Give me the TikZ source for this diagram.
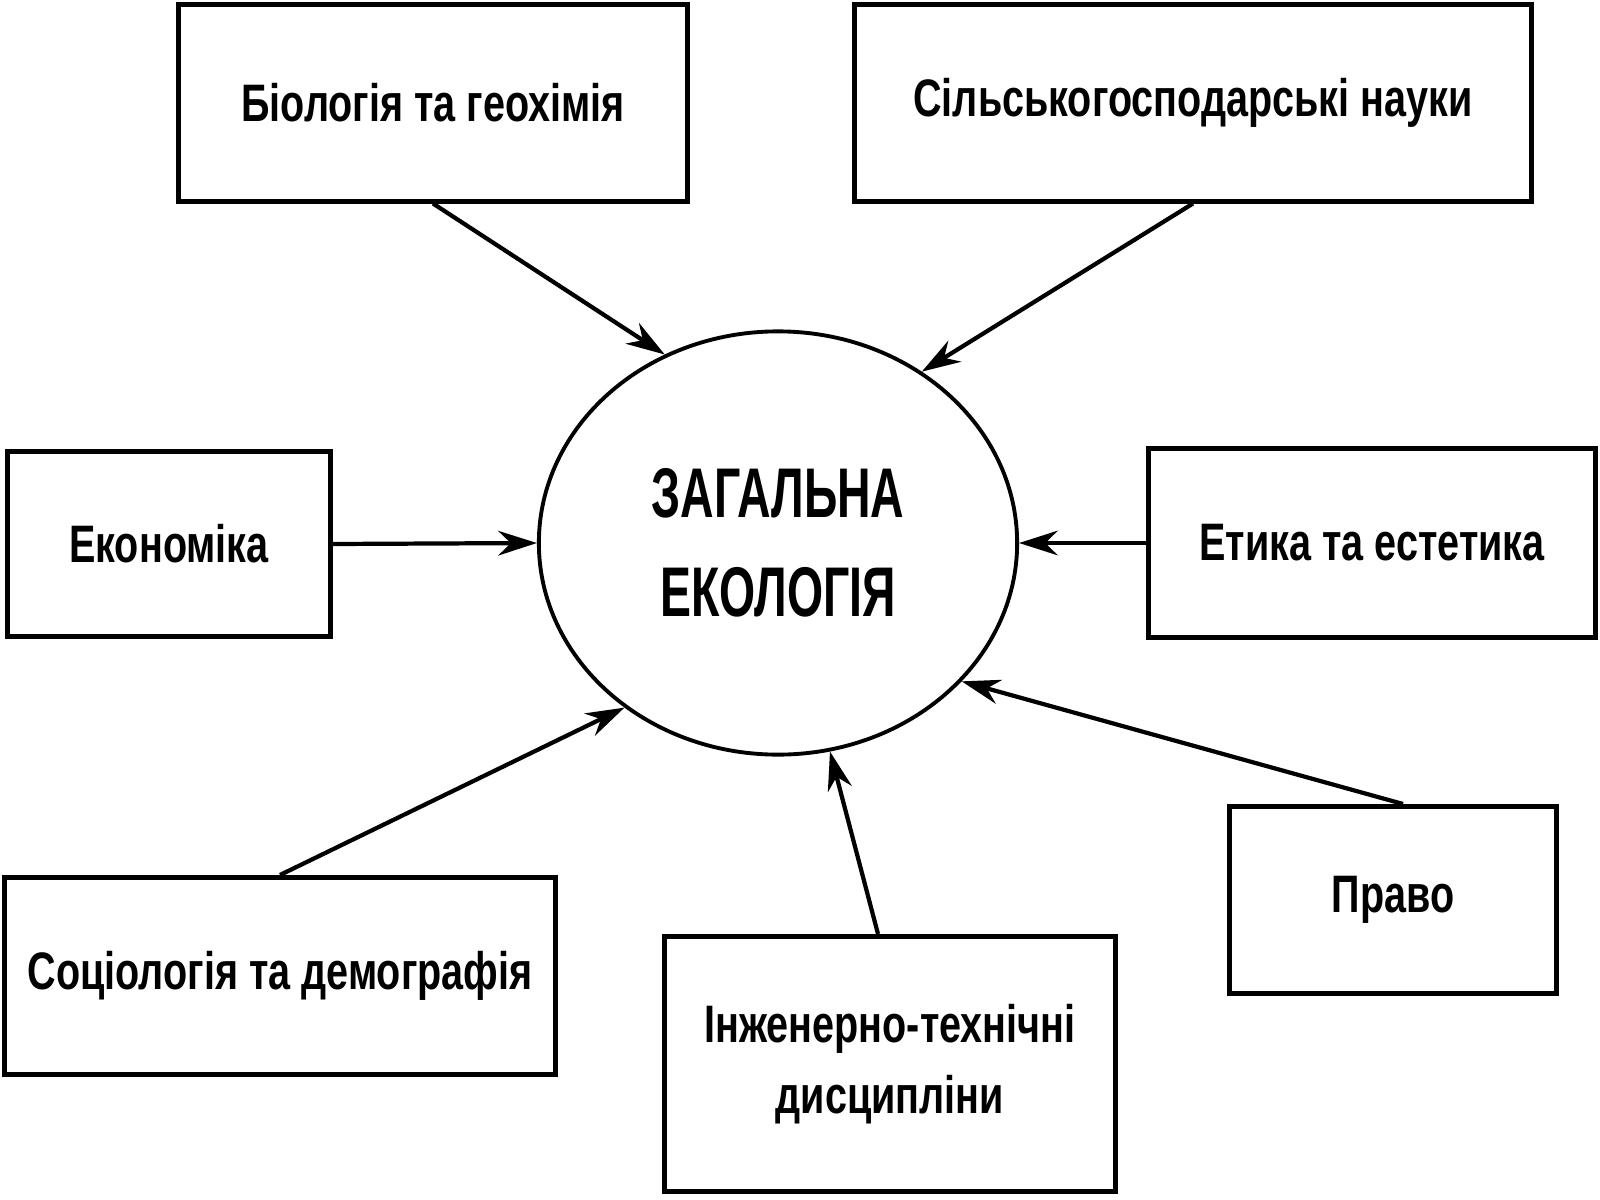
\documentclass[tikz,border=0pt]{standalone}
\usepackage{fontspec}
\usepackage{tikz}
\usetikzlibrary{shapes.geometric,arrows.meta,positioning}
\newfontfamily\boxfont{Liberation Sans Bold}[FakeStretch=0.75]
\newfontfamily\titlefont{Liberation Sans Bold}[FakeStretch=0.66]

\begin{document}
\begin{tikzpicture}[x=0.01cm, y=-0.01cm,
    topic/.style={rectangle, draw=black, line width=1.4pt, fill=white,
        text centered, align=center, font=\boxfont\fontsize{15}{20}\selectfont},
    core/.style={ellipse, draw=black, line width=1.1pt, fill=white, inner sep=0pt,
        minimum width=4.78cm, minimum height=4.23cm, align=center,
        font=\titlefont\fontsize{20}{28}\selectfont},
    line/.style={draw, line width=1.2pt, -{Stealth[length=11pt, width=7pt]}}
]
    \useasboundingbox (0,0) rectangle (1600,1200);

    \node[core] (eco) at (778,543) {ЗАГАЛЬНА\\ЕКОЛОГІЯ};

    \node[topic, minimum width=5.08cm, minimum height=1.96cm] (bio) at (433,103) {Біологія та геохімія};
    \node[topic, minimum width=6.76cm, minimum height=1.96cm] (agri) at (1193,103) {Сільськогосподарські науки};
    \node[topic, minimum width=3.22cm, minimum height=1.84cm] (econ) at (169,544) {Економіка};
    \node[topic, minimum width=4.47cm, minimum height=1.89cm] (ethics) at (1372,543) {Етика та естетика};
    \node[topic, minimum width=5.51cm, minimum height=1.97cm] (socio) at (280,976) {Соціологія та демографія};
    \node[topic, minimum width=4.50cm, minimum height=2.55cm] (eng) at (890,1064) {Інженерно-технічні\\дисципліни};
    \node[topic, minimum width=3.26cm, minimum height=1.87cm] (law) at (1393,900) {Право};

    \path[line] (bio.south) -- (eco.121);
    \path[line] (agri.south) -- (eco.50);
    \path[line] (econ.east) -- (eco.180);
    \path[line] (ethics.west) -- (eco.0);
    \path[line] (socio.north) -- (eco.227);
    \path[line] ([xshift=-0.12cm]eng.north) -- (eco.284);
    \path[line] ([xshift=0.1cm]law.north) -- (eco.323);
\end{tikzpicture}
\end{document}
